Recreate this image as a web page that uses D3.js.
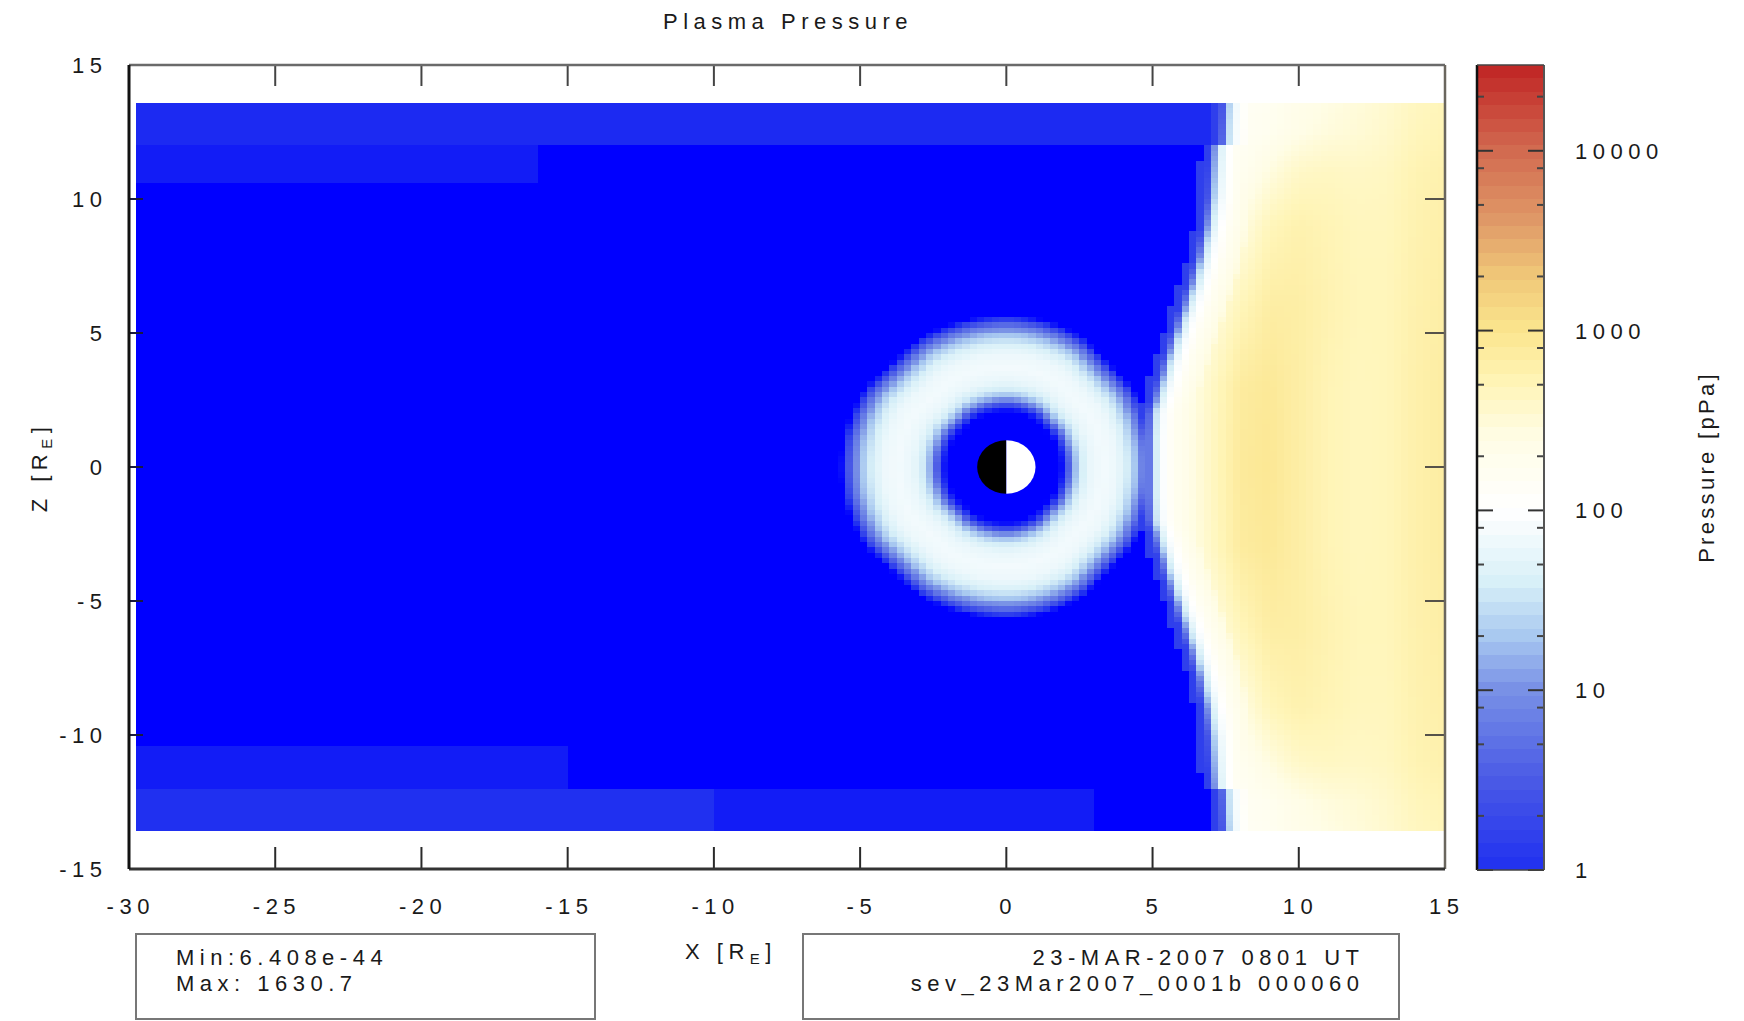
<!DOCTYPE html>
<html>
<head>
<meta charset="utf-8">
<script src="https://cdn.jsdelivr.net/npm/d3@7"></script>
<style>
  body { margin: 0; background: #fff; }
  text { font-family: "Liberation Sans", Arial, sans-serif; fill: #1a1a1a; }
</style>
</head>
<body>
<svg id="chart" width="1744" height="1021"></svg>
<script>
// ---- axes ----
const xTicks = [-30, -25, -20, -15, -10, -5, 0, 5, 10, 15];
const zTicks = [-15, -10, -5, 0, 5, 10, 15];
const cbarMajor = [1, 10, 100, 1000, 10000];
const cbarMinor = [2, 5, 8, 20, 50, 80, 200, 500, 800, 2000, 5000, 8000, 20000];

// ---- colour table (log10 pressure -> colour) ----
const cmapLog   = [0, 0.5, 1.0, 1.3, 1.6, 2.0, 2.4, 2.7, 3.0, 3.3, 3.6, 4.0, 4.477];
const cmapColor = ["#2030f0", "#4a5ae6", "#7890e6", "#a8c8f0", "#d8f0f8", "#ffffff",
                   "#fffde6", "#fff5b8", "#fbe58e", "#f0c878", "#e09a68", "#d26a50", "#c02424"];
const underColor = "#0000ff";

// ---- magnetopause position x(|z|) [RE] ----
const mpZ = [0, 1, 2, 2.9, 4, 5, 6, 7, 8, 9, 10, 11, 12, 12.1, 13.6];
const mpX = [4.7, 4.7, 4.75, 5.0, 5.3, 5.6, 5.9, 6.2, 6.45, 6.65, 6.8, 6.85, 6.9, 7.25, 7.3];

// ---- boundary layer: pressure vs distance outside the magnetopause ----
const layerD = [0, 0.15, 0.35, 0.6, 1.0, 1.6, 2.5];
const layerP = [1.5, 5, 30, 80, 160, 280, 5000];

// ---- magnetosheath pressure table [pPa], rows |z|, columns x ----
const sheathX = [5, 6, 7, 8, 9, 10, 11, 12, 13, 14, 15];
const sheathZ = [0, 3, 6, 9, 11, 12.5, 13.6];
const sheathP = [
  [150, 200, 420, 800, 900, 680, 520, 460, 480, 620, 720],
  [150, 200, 400, 750, 850, 680, 520, 460, 480, 620, 720],
  [150, 150, 260, 480, 700, 680, 560, 480, 480, 600, 680],
  [150, 150, 150, 260, 480, 580, 520, 460, 460, 570, 640],
  [150, 150, 150, 170, 280, 400, 430, 410, 430, 540, 600],
  [150, 150, 150, 150, 180, 240, 290, 320, 370, 470, 520],
  [150, 150, 150, 150, 170, 220, 260, 300, 350, 440, 490]
];

// ---- ring current: pressure vs effective radius [RE] ----
const ringR = [0, 2.0, 2.3, 2.55, 2.85, 3.2, 3.7, 4.2, 4.6, 4.95, 5.25, 5.5, 5.7];
const ringP = [0.2, 0.2, 2, 12, 35, 60, 75, 65, 40, 18, 6, 1.5, 0.2];
const ringDayStretch = 1.12;

// ---- tail lobe bands ----
const bandTop  = [13.6, 12.1, -10.5, -12.1, -12.1];
const bandBot  = [12.1, 10.5, -12.1, -13.6, -13.6];
const bandX0   = [-30, -30, -30, -30, -10];
const bandX1   = [7.3, -16, -15, -10, 3];
const bandP    = [0.85, 0.6, 0.6, 1.0, 0.6];

// ---- run summary ----
const fieldMin = "6.408e-44";
const fieldMax = "1630.7";
const stampTime = "23-MAR-2007 0801 UT";
const stampRun = "sev_23Mar2007_0001b 000060";

// ---- simulation grid ----
const gridX = [-29.75, 15], gridDx = 0.25;
const gridZ = [-13.6, 13.6], gridDz = 0.2;

// ---------------------------------------------------------------
const svg = d3.select("#chart");
const x = d3.scaleLinear().domain([-30, 15]).range([129, 1445]);
const y = d3.scaleLinear().domain([-15, 15]).range([869, 65]);
const cb = d3.scaleLog().domain([1, 30000]).range([870, 65]);
const cLog = d3.scaleLinear().domain(cmapLog).range(cmapColor)
  .interpolate(d3.interpolateRgb).clamp(true);
const cUnder = d3.scaleLinear().domain([Math.log10(0.3), 0]).range([underColor, cmapColor[0]])
  .interpolate(d3.interpolateRgb).clamp(true);
const color = p => p < 1 ? cUnder(Math.log10(p)) : cLog(Math.log10(p));

// piecewise-linear lookup in log pressure
function lookup(xs, ps, v) {
  if (v <= xs[0]) return ps[0];
  for (let i = 1; i < xs.length; i++) {
    if (v <= xs[i]) {
      const t = (v - xs[i - 1]) / (xs[i] - xs[i - 1]);
      return Math.pow(10, Math.log10(ps[i - 1]) * (1 - t) + Math.log10(ps[i]) * t);
    }
  }
  return ps[ps.length - 1];
}
function lin(xs, ys, v) {
  if (v <= xs[0]) return ys[0];
  for (let i = 1; i < xs.length; i++) {
    if (v <= xs[i]) { const t = (v - xs[i - 1]) / (xs[i] - xs[i - 1]); return ys[i - 1] * (1 - t) + ys[i] * t; }
  }
  return ys[ys.length - 1];
}
function sheath(px, az) {
  const rowVals = sheathP.map(row => Math.log10(lookup(sheathX, row, px)));
  return Math.pow(10, lin(sheathZ, rowVals, az));
}
function pressure(px, pz) {
  const az = Math.abs(pz);
  const mp = lin(mpZ, mpX, az);
  if (px > mp) {
    return Math.min(lookup(layerD, layerP, px - mp), sheath(px, az));
  }
  // ring distance on a slightly octagonal grid metric
  const ax = Math.abs(px > 0 ? px * ringDayStretch : px);
  const r = Math.max(Math.hypot(ax, pz), (ax + az) / 1.38);
  let p = lookup(ringR, ringP, r);
  for (let b = 0; b < bandTop.length; b++) {
    if (pz <= bandTop[b] && pz > bandBot[b] && px >= bandX0[b] && px < bandX1[b]) p = Math.max(p, bandP[b]);
  }
  if (mp - px < 0.25) p = Math.max(p, 1.5);
  return p;
}

// ---- heat map: cells merged into horizontal runs of equal colour ----
const cells = [];
const nx = Math.round((gridX[1] - gridX[0]) / gridDx);
const nz = Math.round((gridZ[1] - gridZ[0]) / gridDz);
for (let j = 0; j < nz; j++) {
  const z0 = gridZ[0] + j * gridDz, z1 = z0 + gridDz, zc = (z0 + z1) / 2;
  let runStart = 0, runColor = null;
  for (let i = 0; i <= nx; i++) {
    const col = i < nx ? color(pressure(gridX[0] + (i + 0.5) * gridDx, zc)) : null;
    if (col !== runColor) {
      if (runColor !== null) {
        cells.push({ x0: gridX[0] + runStart * gridDx, x1: gridX[0] + i * gridDx, z0, z1, c: runColor });
      }
      runStart = i; runColor = col;
    }
  }
}
svg.append("g").attr("shape-rendering", "crispEdges")
  .selectAll("rect").data(cells).join("rect")
  .attr("x", d => Math.round(x(d.x0)))
  .attr("width", d => Math.round(x(d.x1)) - Math.round(x(d.x0)))
  .attr("y", d => Math.round(y(d.z1)))
  .attr("height", d => Math.round(y(d.z0)) - Math.round(y(d.z1)))
  .attr("fill", d => d.c);

// ---- Earth: night half black, day half white ----
const rx = x(1) - x(0), ry = y(0) - y(1);
svg.append("path")
  .attr("d", `M${x(0)},${y(1)} A${rx},${ry} 0 0 0 ${x(0)},${y(-1)} Z`)
  .attr("fill", "#000");
svg.append("path")
  .attr("d", `M${x(0)},${y(1)} A${rx},${ry} 0 0 1 ${x(0)},${y(-1)} Z`)
  .attr("fill", "#fff");

// ---- frame and ticks ----
const frame = svg.append("g");
xTicks.forEach(t => {
  frame.append("line").attr("x1", x(t)).attr("x2", x(t)).attr("y1", y(-15)).attr("y2", y(-15) - 22)
    .attr("stroke", "#2a2a2a").attr("stroke-width", 2);
  frame.append("line").attr("x1", x(t)).attr("x2", x(t)).attr("y1", y(15)).attr("y2", y(15) + 21)
    .attr("stroke", "#444").attr("stroke-width", 2);
});
zTicks.forEach(t => {
  frame.append("line").attr("x1", x(-30)).attr("x2", x(-30) + 14).attr("y1", y(t)).attr("y2", y(t))
    .attr("stroke", "#1a1a40").attr("stroke-width", 2);
  frame.append("line").attr("x1", x(15)).attr("x2", x(15) - 20).attr("y1", y(t)).attr("y2", y(t))
    .attr("stroke", "#55524a").attr("stroke-width", 2);
});
frame.append("line").attr("x1", x(-30)).attr("x2", x(15)).attr("y1", y(15)).attr("y2", y(15))
  .attr("stroke", "#6a6a6a").attr("stroke-width", 2.5);
frame.append("line").attr("x1", x(15)).attr("x2", x(15)).attr("y1", y(15)).attr("y2", y(-15))
  .attr("stroke", "#6a665e").attr("stroke-width", 2.5);
frame.append("line").attr("x1", x(-30)).attr("x2", x(15)).attr("y1", y(-15)).attr("y2", y(-15))
  .attr("stroke", "#333").attr("stroke-width", 3);
frame.append("line").attr("x1", x(-30)).attr("x2", x(-30)).attr("y1", y(15)).attr("y2", y(-15))
  .attr("stroke", "#111").attr("stroke-width", 3);

// ---- text ----
const fs = 22, ls = 5.5;
svg.append("g").selectAll("text").data(xTicks).join("text")
  .attr("x", d => x(d) + ls / 2 - 1).attr("y", 914)
  .attr("text-anchor", "middle").attr("font-size", fs).attr("letter-spacing", ls)
  .text(d => d);
svg.append("g").selectAll("text").data(zTicks).join("text")
  .attr("x", 102 + ls).attr("y", d => y(d) + 8)
  .attr("text-anchor", "end").attr("font-size", fs).attr("letter-spacing", ls)
  .text(d => d);

const xt = svg.append("text").attr("x", 731).attr("y", 959).attr("text-anchor", "middle")
  .attr("font-size", fs).attr("letter-spacing", ls);
xt.append("tspan").text("X [R");
xt.append("tspan").attr("font-size", 15).attr("dy", 5).text("E");
xt.append("tspan").attr("dy", -5).text("]");
const zt = svg.append("text").attr("transform", "translate(47,467) rotate(-90)").attr("text-anchor", "middle")
  .attr("font-size", fs).attr("letter-spacing", ls);
zt.append("tspan").text("Z [R");
zt.append("tspan").attr("font-size", 15).attr("dy", 5).text("E");
zt.append("tspan").attr("dy", -5).text("]");

svg.append("text").attr("x", 788).attr("y", 29).attr("text-anchor", "middle")
  .attr("font-size", fs).attr("letter-spacing", ls).text("Plasma Pressure");

// ---- colour bar ----
const cbX0 = 1477, cbX1 = 1544;
const nBands = 60;
const lmax = Math.log10(30000);
const bands = d3.range(nBands).map(i => ({ a: i * lmax / nBands, b: (i + 1) * lmax / nBands }));
svg.append("g").attr("shape-rendering", "crispEdges")
  .selectAll("rect").data(bands).join("rect")
  .attr("x", cbX0).attr("width", cbX1 - cbX0)
  .attr("y", d => Math.round(cb(Math.pow(10, d.b))))
  .attr("height", d => Math.round(cb(Math.pow(10, d.a))) - Math.round(cb(Math.pow(10, d.b))))
  .attr("fill", d => cLog((d.a + d.b) / 2));
const cbg = svg.append("g");
cbarMajor.forEach(v => {
  cbg.append("line").attr("x1", cbX0).attr("x2", cbX0 + 16).attr("y1", cb(v)).attr("y2", cb(v)).attr("stroke", "#333").attr("stroke-width", 2);
  cbg.append("line").attr("x1", cbX1).attr("x2", cbX1 - 16).attr("y1", cb(v)).attr("y2", cb(v)).attr("stroke", "#333").attr("stroke-width", 2);
});
cbarMinor.forEach(v => {
  cbg.append("line").attr("x1", cbX0).attr("x2", cbX0 + 7).attr("y1", cb(v)).attr("y2", cb(v)).attr("stroke", "#444").attr("stroke-width", 2);
  cbg.append("line").attr("x1", cbX1).attr("x2", cbX1 - 7).attr("y1", cb(v)).attr("y2", cb(v)).attr("stroke", "#444").attr("stroke-width", 2);
});
cbg.append("line").attr("x1", cbX0).attr("x2", cbX0).attr("y1", 65).attr("y2", 870).attr("stroke", "#111").attr("stroke-width", 2.5);
cbg.append("line").attr("x1", cbX1).attr("x2", cbX1).attr("y1", 65).attr("y2", 870).attr("stroke", "#555").attr("stroke-width", 2);
cbg.append("line").attr("x1", cbX0).attr("x2", cbX1).attr("y1", 65).attr("y2", 65).attr("stroke", "#444").attr("stroke-width", 1.5);
cbg.append("line").attr("x1", cbX0).attr("x2", cbX1).attr("y1", 870).attr("y2", 870).attr("stroke", "#444").attr("stroke-width", 1.5);
svg.append("g").selectAll("text").data(cbarMajor).join("text")
  .attr("x", 1575).attr("y", d => cb(d) + 8)
  .attr("font-size", fs).attr("letter-spacing", ls)
  .text(d => d);
svg.append("text").attr("transform", "translate(1714,467) rotate(-90)").attr("text-anchor", "middle")
  .attr("font-size", fs).attr("letter-spacing", 3.3).text("Pressure [pPa]");

// ---- info boxes ----
svg.append("rect").attr("x", 136).attr("y", 934).attr("width", 459).attr("height", 85)
  .attr("fill", "none").attr("stroke", "#777").attr("stroke-width", 2);
svg.append("rect").attr("x", 803).attr("y", 934).attr("width", 596).attr("height", 85)
  .attr("fill", "none").attr("stroke", "#777").attr("stroke-width", 2);
svg.append("text").attr("x", 176).attr("y", 965).attr("font-size", fs).attr("letter-spacing", ls)
  .text("Min:" + fieldMin);
svg.append("text").attr("x", 176).attr("y", 991).attr("font-size", fs).attr("letter-spacing", ls)
  .text("Max: " + fieldMax);
svg.append("text").attr("x", 1359 + ls).attr("y", 965).attr("text-anchor", "end").attr("font-size", fs).attr("letter-spacing", ls)
  .text(stampTime);
svg.append("text").attr("x", 1359 + ls).attr("y", 991).attr("text-anchor", "end").attr("font-size", fs).attr("letter-spacing", ls)
  .text(stampRun);
</script>
</body>
</html>
